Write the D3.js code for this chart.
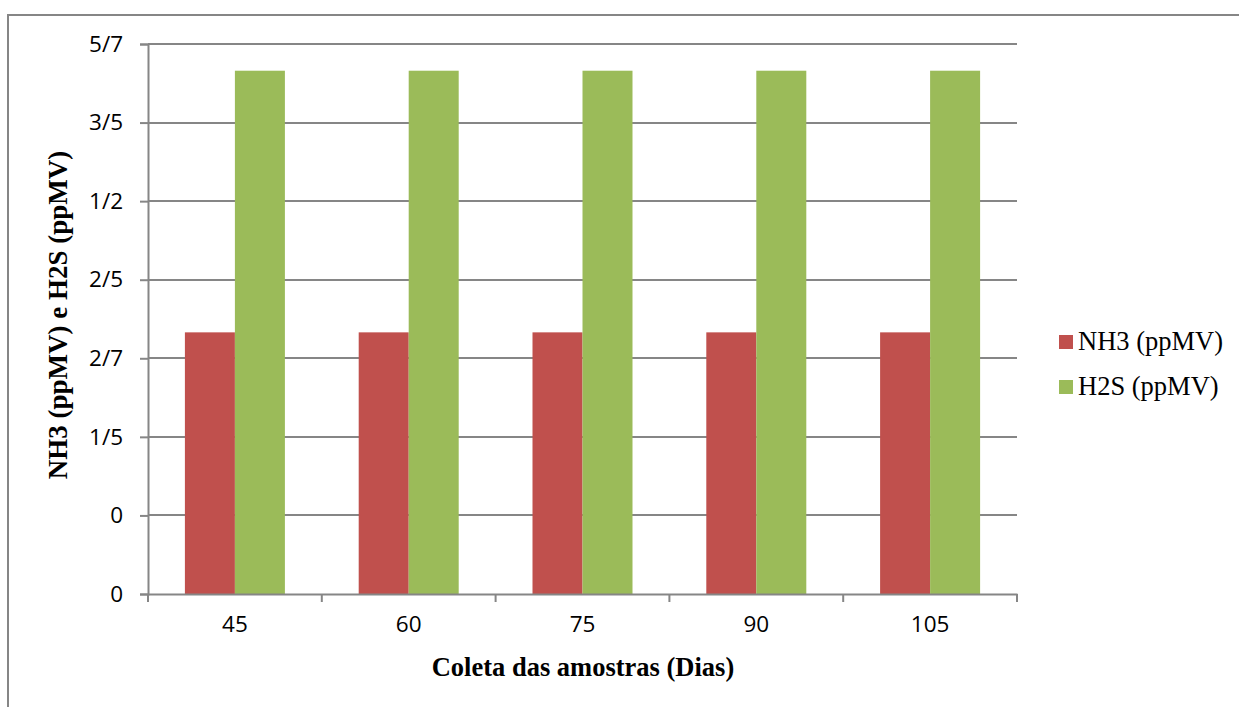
<!DOCTYPE html>
<html>
<head>
<meta charset="utf-8">
<script src="https://cdn.jsdelivr.net/npm/d3@7"></script>
<style>
  html, body { margin: 0; padding: 0; background: #fff; }
  svg { display: block; }
</style>
</head>
<body>
<svg id="chart" width="1239" height="707"></svg>
<script>
const categories = ["45", "60", "75", "90", "105"];
const seriesNames = ["NH3 (ppMV)", "H2S (ppMV)"];
const nh3Values = [0.333, 0.333, 0.333, 0.333, 0.333];
const h2sValues = [0.666, 0.666, 0.666, 0.666, 0.666];
const yTickValues = [0, 0.1, 0.2, 0.3, 0.4, 0.5, 0.6, 0.7];
const yTickLabels = ["0", "0", "1/5", "2/7", "2/5", "1/2", "3/5", "5/7"];
const colors = ["#C0504D", "#9BBB59"];

const svg = d3.select("#chart");
const margin = { left: 148, right: 1017, top: 44, bottom: 594 };
const grid = "#868686";

// outer chart border (cropped at right/bottom)
svg.append("rect")
  .attr("x", 8).attr("y", 15)
  .attr("width", 1300).attr("height", 800)
  .attr("fill", "none").attr("stroke", grid).attr("stroke-width", 2);

const x = d3.scaleBand().domain(categories).range([margin.left, margin.right]).padding(0);
const y = d3.scaleLinear().domain([0, 0.7]).range([margin.bottom, margin.top]);

const seriesData = [nh3Values, h2sValues];
const barW = 50;
const groupOffset = (x.bandwidth() - 2 * barW) / 2;

// gridlines
svg.append("g").selectAll("line").data(yTickValues.slice(1)).join("line")
  .attr("x1", margin.left).attr("x2", margin.right)
  .attr("y1", d => Math.round(y(d))).attr("y2", d => Math.round(y(d)))
  .attr("stroke", grid).attr("stroke-width", 2);

// bars
seriesData.forEach((vals, si) => {
  svg.append("g").selectAll("rect").data(vals).join("rect")
    .attr("x", (d, i) => x(categories[i]) + groupOffset + si * barW)
    .attr("width", barW)
    .attr("y", d => y(d))
    .attr("height", d => y(0) - y(d))
    .attr("fill", colors[si]);
});

// y axis
const yAxis = d3.axisLeft(y).tickValues(yTickValues)
  .tickFormat((d, i) => yTickLabels[i]).tickSize(8).tickPadding(17);
const gy = svg.append("g").attr("transform", `translate(${margin.left},0)`).call(yAxis);
gy.select(".domain").attr("stroke", grid).attr("stroke-width", 2);
gy.selectAll(".tick line").attr("stroke", grid).attr("stroke-width", 2);
gy.selectAll(".tick text").attr("font-family", "'Open Sans', sans-serif")
  .attr("font-size", 22.5).attr("fill", "#000");

// x axis
const xAxis = d3.axisBottom(x).tickSize(0).tickPadding(22);
const gx = svg.append("g").attr("transform", `translate(0,${margin.bottom})`).call(xAxis);
gx.select(".domain").attr("stroke", grid).attr("stroke-width", 2);
gx.selectAll(".tick text").attr("font-family", "'Open Sans', sans-serif")
  .attr("font-size", 22.5).attr("fill", "#000");
// category boundary ticks
const bounds = categories.map(c => x(c)).concat([margin.right]);
gx.append("g").selectAll("line").data(bounds).join("line")
  .attr("x1", d => d).attr("x2", d => d).attr("y1", 0).attr("y2", 8)
  .attr("stroke", grid).attr("stroke-width", 2);

// axis titles
svg.append("text")
  .attr("x", 583).attr("y", 676)
  .attr("text-anchor", "middle")
  .attr("font-family", "'Liberation Serif', 'Times New Roman', serif")
  .attr("font-weight", "bold").attr("font-size", 26.5)
  .text("Coleta das amostras (Dias)");

svg.append("text")
  .attr("transform", "translate(67,315) rotate(-90)")
  .attr("text-anchor", "middle")
  .attr("font-family", "'Liberation Serif', 'Times New Roman', serif")
  .attr("font-weight", "bold").attr("font-size", 27)
  .text("NH3 (ppMV) e H2S (ppMV)");

// legend
const legend = svg.append("g");
seriesNames.forEach((name, i) => {
  const ly = 335 + i * 45;
  legend.append("rect").attr("x", 1059).attr("y", ly).attr("width", 14).attr("height", 14)
    .attr("fill", colors[i]);
  legend.append("text").attr("x", 1078).attr("y", ly + 15)
    .attr("font-family", "'Liberation Serif', 'Times New Roman', serif")
    .attr("font-size", 26.5).attr("fill", "#000").text(name);
});
</script>
</body>
</html>
